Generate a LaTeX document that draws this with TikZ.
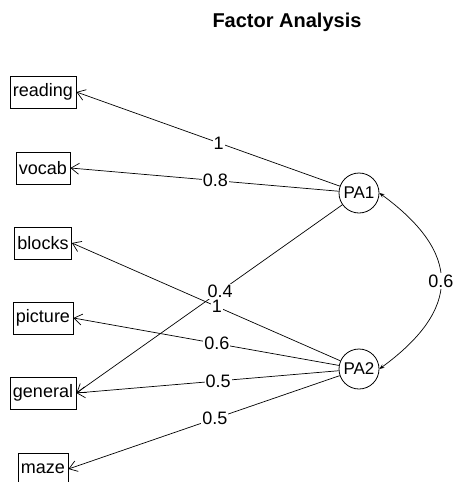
\documentclass[tikz,border=0pt]{standalone}
\usepackage{fontspec}
\setmainfont{Liberation Sans}
\usetikzlibrary{arrows.meta,positioning}

\begin{document}
\begin{tikzpicture}[
  x=1pt, y=-1pt,
  font=\fontsize{18}{20}\selectfont,
  var/.style={draw, line width=0.8pt, minimum height=32pt, inner xsep=3pt, inner ysep=0pt},
  fac/.style={draw, circle, line width=0.8pt, minimum size=40pt, inner sep=0pt, font=\fontsize{17}{19}\selectfont},
  load/.style={-{Straight Barb[length=8pt,width=11pt]}, line width=0.7pt},
  corr/.style={{Stealth[length=5pt,width=4pt]}-{Stealth[length=5pt,width=4pt]}, line width=0.7pt},
  wt/.style={fill=white, inner sep=1pt, pos=0.46}
]
\useasboundingbox (0,0) rectangle (453,482);
\node[font=\bfseries\fontsize{20}{24}\selectfont] (title) at (287,22) {Factor Analysis};

% observed variables
\node[var] (reading) at (43,92) {reading};
\node[var] (vocab) at (43,168) {vocab};
\node[var] (blocks) at (43,243) {blocks};
\node[var] (picture) at (43,318) {picture};
\node[var] (general) at (43,393) {general};
\node[var] (maze) at (43,469) {maze};

% factors
\node[fac] (PA1) at (359,193) {PA1};
\node[fac] (PA2) at (359,369) {PA2};

\draw[load] (PA1) -- node[wt] {1} (reading.east);
\draw[load] (PA1) -- node[wt] {0.8} (vocab.east);
\draw[load] (PA1) -- node[wt] {0.4} (general.east);
\draw[load] (PA2) -- node[wt] {1} (blocks.east);
\draw[load] (PA2) -- node[wt] {0.6} (picture.east);
\draw[load] (PA2) -- node[wt] {0.5} (general.east);
\draw[load] (PA2) -- node[wt] {0.5} (maze.east);

\draw[corr] (PA1.east) .. controls +(82,60) and +(82,-60) .. node[fill=white, inner sep=2pt] {0.6} (PA2.east);
\end{tikzpicture}
\end{document}
